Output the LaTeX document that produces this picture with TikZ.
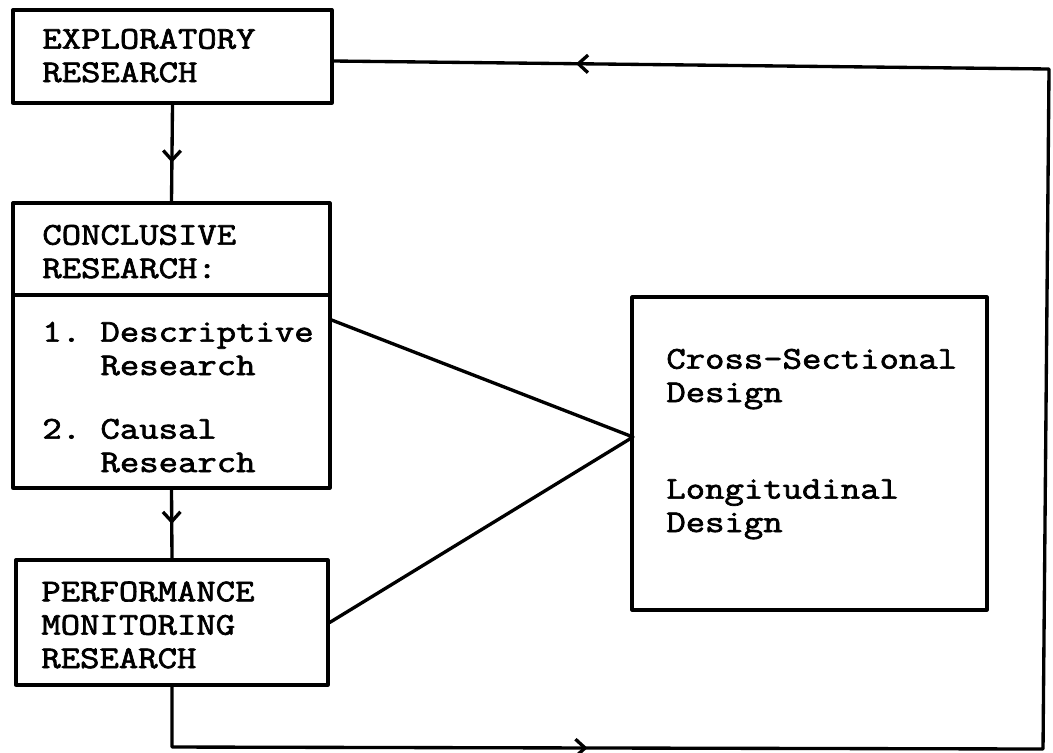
\documentclass[tikz,border=0pt]{standalone}
\usepackage{fontspec}
\newfontfamily\tw{Latin Modern Mono}[FakeBold=2.2, FakeStretch=1.19]
\usetikzlibrary{arrows.meta,decorations.markings}

\tikzset{
  ink/.style={line width=1.9pt, line join=round, line cap=round},
  box/.style={draw, ink, rectangle, inner sep=0pt},
  txt/.style={font=\tw\fontsize{18}{19}\selectfont, align=left, anchor=base west, inner sep=0pt},
  barb/.tip={Straight Barb[length=5.5pt,width=10pt,line width=1.9pt]},
  midarrow/.style={postaction={decorate, decoration={markings,
      mark=at position #1 with {\arrow{barb}}}}},
}

\begin{document}
\begin{tikzpicture}[x=0.02cm, y=-0.02cm]
  \useasboundingbox (0,0) rectangle (1053,752);

  % boxes
  \node[box, minimum width=6.38cm, minimum height=1.86cm] (expl) at (172.5,56.5) {};
  \node[box, minimum width=6.34cm, minimum height=5.70cm] (conc) at (171.5,345.5) {};
  \node[box, minimum width=6.24cm, minimum height=2.50cm] (perf) at (172,622.5) {};
  \node[box, minimum width=7.10cm, minimum height=6.26cm] (design) at (809.5,453.5) {};

  % divider inside the conclusive box
  \coordinate (divL) at (13,295);
  \coordinate (divR) at (330,295);
  \draw[ink] (divL) -- (divR);

  % texts (anchored at the baseline of their last line)
  \node[txt] (tExpl) at (42,82) {EXPLORATORY\\RESEARCH};
  \node[txt] (tConc) at (42,278) {CONCLUSIVE\\RESEARCH:};
  \node[txt] (tDesc) at (42,375) {1.~Descriptive\\\phantom{1.~}Research};
  \node[txt] (tCaus) at (42,472) {2.~Causal\\\phantom{2.~}Research};
  \node[txt] (tPerf) at (41,668) {PERFORMANCE\\MONITORING\\RESEARCH};
  \node[txt] (tCross) at (666,402) {Cross-Sectional\\Design};
  \node[txt] (tLong) at (666,532) {Longitudinal\\Design};

  % vertical flow
  \draw[ink, midarrow=0.6] (expl.south) -- (conc.north);
  \draw[ink, midarrow=0.5] (conc.south) -- (perf.north);

  % links to the design box
  \coordinate (meet) at (633,437);
  \draw[ink] ([yshift=0.51cm]conc.east) -- (meet) -- (perf.east);

  % feedback loop
  \coordinate (lb) at (172,747);
  \coordinate (rb) at (1043,749);
  \coordinate (rt) at (1049,69);
  \draw[ink, midarrow=9.52cm, midarrow=41.7cm]
    (perf.south) -- (lb) -- (rb) -- (rt) -- ([yshift=-0.09cm]expl.east);
\end{tikzpicture}
\end{document}
